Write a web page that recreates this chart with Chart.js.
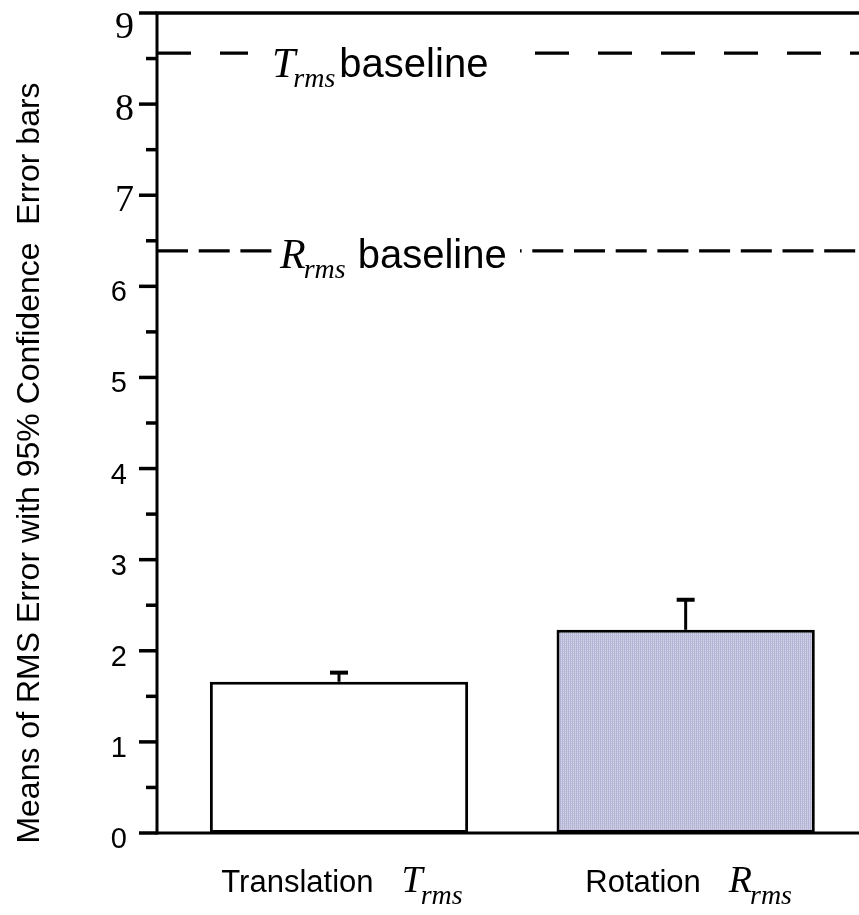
<!DOCTYPE html>
<html>
<head>
<meta charset="utf-8">
<title>Means of RMS Error</title>
<script src="https://cdn.jsdelivr.net/npm/chart.js@4.4.1/dist/chart.umd.min.js"></script>
<style>
  html, body { margin: 0; padding: 0; background: #fff; }
  #wrap { width: 859px; height: 915px; }
</style>
</head>
<body>
<div id="wrap"><canvas id="chart" width="859" height="915"></canvas></div>
<script>
// values
const categories = ['Translation', 'Rotation'];
const symbols = ['T', 'R'];
const meanRms = [1.66, 2.23];
const upperCi = [1.76, 2.56];
const baselineSymbols = ['T', 'R'];
const baselineValues = [8.56, 6.39];
const yTicks = [0, 1, 2, 3, 4, 5, 6, 7, 8, 9];
const serifTicks = [7, 8, 9];
const barPositions = [0, 1];
const yTitle = 'Means of RMS Error with 95% Confidence  Error bars';

const SANS = '"Liberation Sans", Arial, sans-serif';
const SERIF = '"Liberation Serif", "Times New Roman", serif';

const canvas = document.getElementById('chart');

// fine vertical hatching used for the rotation bar
function stripePattern() {
    const c = document.createElement('canvas');
    c.width = 2;
    c.height = 2;
    const g = c.getContext('2d');
    g.fillStyle = '#b4b4d6';
    g.fillRect(0, 0, 1, 2);
    g.fillStyle = '#d3d3e8';
    g.fillRect(1, 0, 1, 2);
    g.fillStyle = '#c3c3de';
    g.fillRect(1, 1, 1, 1);
    return canvas.getContext('2d').createPattern(c, 'repeat');
}

function seg(ctx, x1, y1, x2, y2) {
    ctx.beginPath();
    ctx.moveTo(x1, y1);
    ctx.lineTo(x2, y2);
    ctx.stroke();
}

// symbol with italic subscript "rms", returns end x
function drawRms(ctx, sym, x, y, symSize, subSize, subDrop) {
    ctx.textAlign = 'left';
    ctx.textBaseline = 'alphabetic';
    ctx.font = `italic ${symSize}px ${SERIF}`;
    ctx.fillText(sym, x, y);
    const w1 = ctx.measureText(sym).width;
    ctx.font = `italic ${subSize}px ${SERIF}`;
    ctx.fillText('rms', x + w1 - 2, y + subDrop);
    return x + w1 - 2 + ctx.measureText('rms').width;
}

const baselineStyle = [
    { dash: [34, 29], boxFrom: 91, boxTo: 371, textAt: 115, textDrop: 24, gap: 4 },
    { dash: [31, 10.7], boxFrom: 116, boxTo: 363, textAt: 123, textDrop: 17, gap: 12 }
];

const figurePlugin = {
    id: 'figure',
    afterDatasetsDraw(chart) {
        const { ctx, chartArea: a, scales } = chart;
        const y = scales.y;
        const meta = chart.getDatasetMeta(0);
        ctx.save();
        ctx.strokeStyle = '#000';
        ctx.fillStyle = '#000';

        // axes and top rule
        ctx.lineWidth = 3;
        seg(ctx, a.left, a.top, a.left, a.bottom + 1.5);
        seg(ctx, a.left, a.bottom, a.right, a.bottom);
        ctx.lineWidth = 3.5;
        seg(ctx, a.left - 1.5, a.top, a.right, a.top);

        // tick marks
        ctx.lineWidth = 3.5;
        yTicks.forEach((v, i) => {
            const py = y.getPixelForValue(v);
            seg(ctx, a.left - 18, py, a.left, py);
            if (i < yTicks.length - 1) {
                const pm = y.getPixelForValue(v + 0.5);
                seg(ctx, a.left - 11, pm, a.left, pm);
            }
        });

        // tick labels
        ctx.textBaseline = 'alphabetic';
        ctx.textAlign = 'right';
        yTicks.forEach(v => {
            const py = y.getPixelForValue(v);
            if (serifTicks.includes(v)) {
                ctx.font = `38px ${SERIF}`;
                ctx.fillText(String(v), a.left - 23, Math.max(py + 16, a.top + 25));
            } else {
                ctx.font = `29px ${SANS}`;
                ctx.fillText(String(v), a.left - 30, py + 15);
            }
        });

        // error bars (upper half only)
        meta.data.forEach((bar, i) => {
            const top = y.getPixelForValue(upperCi[i]);
            ctx.lineWidth = 3;
            seg(ctx, bar.x, bar.y, bar.x, top);
            ctx.lineWidth = 4;
            seg(ctx, bar.x - 9, top, bar.x + 9, top);
        });

        // baselines
        baselineValues.forEach((v, i) => {
            const st = baselineStyle[i];
            const py = y.getPixelForValue(v);
            ctx.lineWidth = 3.2;
            ctx.setLineDash(st.dash);
            seg(ctx, a.left, py, a.right, py);
            ctx.setLineDash([]);
            ctx.fillStyle = '#fff';
            ctx.fillRect(a.left + st.boxFrom, py - 4, st.boxTo - st.boxFrom, 8);
            ctx.fillStyle = '#000';
            const end = drawRms(ctx, baselineSymbols[i], a.left + st.textAt, py + st.textDrop, 42, 28, 10);
            ctx.font = `40px ${SANS}`;
            ctx.textAlign = 'left';
            ctx.fillText('baseline', end + st.gap, py + st.textDrop);
        });

        // category labels
        meta.data.forEach((bar, i) => {
            const gap = 28;
            ctx.font = `31px ${SANS}`;
            const wName = ctx.measureText(categories[i]).width;
            ctx.font = `italic 38px ${SERIF}`;
            const wSym = ctx.measureText(symbols[i]).width;
            ctx.font = `italic 28px ${SERIF}`;
            const wSub = ctx.measureText('rms').width;
            const total = wName + gap + wSym - 2 + wSub;
            const x0 = bar.x + 3 - total / 2;
            const by = a.bottom + 59;
            ctx.font = `31px ${SANS}`;
            ctx.textAlign = 'left';
            ctx.fillText(categories[i], x0, by);
            drawRms(ctx, symbols[i], x0 + wName + gap, by, 38, 28, 12);
        });

        // y axis title
        ctx.save();
        ctx.translate(39, 463);
        ctx.rotate(-Math.PI / 2);
        ctx.font = `32px ${SANS}`;
        ctx.textAlign = 'center';
        ctx.textBaseline = 'alphabetic';
        ctx.fillText(yTitle, 0, 0);
        ctx.restore();

        ctx.restore();
    }
};

new Chart(canvas, {
    type: 'bar',
    data: {
        labels: categories,
        datasets: [{
            data: barPositions.map((p, i) => ({ x: p, y: meanRms[i] })),
            backgroundColor: ['#ffffff', stripePattern()],
            borderColor: '#000',
            borderWidth: 3,
            borderSkipped: false,
            categoryPercentage: 1,
            barPercentage: 0.745
        }]
    },
    options: {
        responsive: false,
        animation: false,
        layout: { padding: { left: 157, top: 13, right: 0, bottom: 82 } },
        scales: {
            x: {
                type: 'linear',
                display: false,
                offset: false,
                grid: { offset: false },
                min: -0.525,
                max: 1.5,
                afterBuildTicks: scale => {
                    scale.ticks = barPositions.map(v => ({ value: v }));
                }
            },
            y: {
                display: false,
                min: 0,
                max: 9
            }
        },
        plugins: {
            legend: { display: false },
            tooltip: { enabled: false }
        }
    },
    plugins: [figurePlugin]
});
</script>
</body>
</html>
